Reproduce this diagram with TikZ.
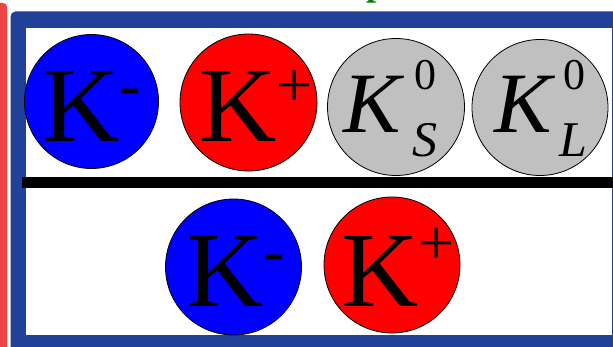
\documentclass[tikz,border=0pt]{standalone}
\usepackage{fontspec}
\setmainfont{Liberation Serif}
\definecolor{frameblue}{RGB}{33,64,152}
\definecolor{barred}{RGB}{240,68,68}
\definecolor{kgray}{RGB}{192,192,192}
\definecolor{titlegreen}{RGB}{0,128,0}
\newcommand{\bigKfont}{\fontsize{107}{107}\selectfont}
\newcommand{\supKfont}{\fontsize{64}{64}\selectfont}
\newcommand{\italKfont}{\fontsize{86}{86}\selectfont\itshape}
\newcommand{\zerofont}{\fontsize{44}{44}\selectfont}
\newcommand{\subfont}{\fontsize{50}{50}\selectfont\itshape}
\tikzset{
  kaon/.style={circle, draw=black, line width=0.8pt, inner sep=0pt, minimum size=#1},
  ktxt/.style={anchor=base west, inner sep=0pt, text=black},
}
\begin{document}
\begin{tikzpicture}[x=1pt,y=-1pt]
\useasboundingbox (0,0) rectangle (613,347);
% left red bar
\fill[barred, rounded corners=4pt] (-6,3) rectangle (7,370);
% blue frame
\fill[frameblue, rounded corners=5pt] (10.5,11.5) rectangle (640,370);
\fill[white] (26,28) rectangle (611.5,334.5);
% green title (cut off at top)
\node[anchor=base west, inner sep=0pt, text=titlegreen, font=\fontsize{36}{36}\selectfont\bfseries] (title) at (366,-4.5) {p};
% top row
\node[kaon=134pt, fill=blue] (km1) at (91.5,101.5) {};
\node[kaon=137pt, fill=red] (kp1) at (248.5,102.5) {};
\node[kaon=137pt, fill=kgray] (ks) at (396,107) {};
\node[kaon=136pt, fill=kgray] (kl) at (540,107.5) {};
\node[ktxt] (km1t) at (42,142) {\bigKfont K\raisebox{35.6pt}{\supKfont -}};
\node[ktxt] (kp1t) at (199,142) {\bigKfont K\raisebox{35pt}{\supKfont +}};
\node[ktxt] (kst) at (343,133) {\italKfont K};
\node[ktxt] (ks0) at (414,90) {\zerofont 0};
\node[ktxt] (kss) at (412,157) {\subfont S};
\node[ktxt] (klt) at (494,133) {\italKfont K};
\node[ktxt] (kl0) at (563,90) {\zerofont 0};
\node[ktxt] (kll) at (559,157) {\subfont L};
% separator
\coordinate (sepL) at (22,182.5);
\coordinate (sepR) at (620,182.5);
\draw[line width=11pt, black] (sepL) -- (sepR);
% bottom row
\node[kaon=136pt, fill=blue] (km2) at (233.5,267) {};
\node[kaon=136pt, fill=red] (kp2) at (392,265) {};
\node[ktxt] (km2t) at (186,307) {\bigKfont K\raisebox{34.6pt}{\supKfont -}};
\node[ktxt] (kp2t) at (341,307) {\bigKfont K\raisebox{42.5pt}{\supKfont +}};
\end{tikzpicture}
\end{document}
